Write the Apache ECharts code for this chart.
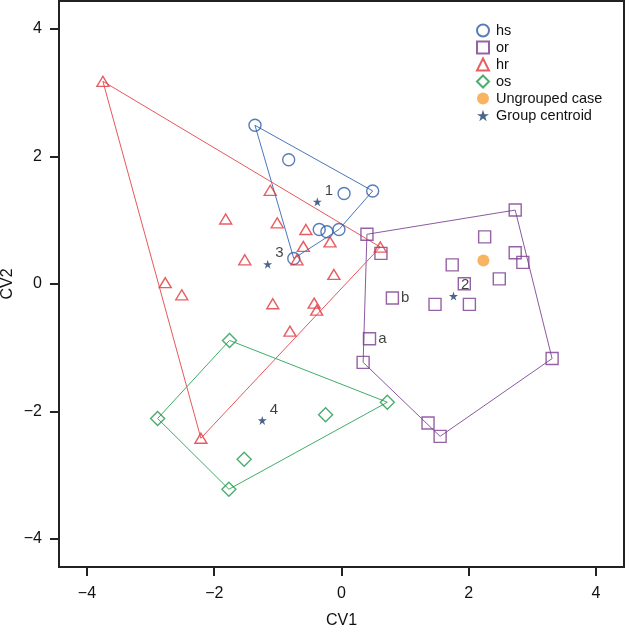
<!DOCTYPE html>
<html>
<head>
<meta charset="utf-8">
<script src="https://cdn.jsdelivr.net/npm/echarts@6/dist/echarts.min.js"></script>
<style>html,body{margin:0;padding:0;background:#fff;}#c{width:626px;height:625px;}</style>
</head>
<body>
<div id="c"></div>
<script>
// ---- data ----
const hsPoints = [[-1.36,2.49],[-0.83,1.95],[0.04,1.42],[0.49,1.46],[-0.35,0.855],[-0.23,0.82],[-0.04,0.855],[-0.75,0.40]];
const orPoints = [[0.40,0.78],[0.62,0.48],[2.73,1.16],[2.25,0.74],[2.73,0.49],[2.85,0.34],[1.74,0.30],[2.48,0.08],[1.93,0.005],[0.80,-0.22],[1.47,-0.32],[2.01,-0.32],[0.44,-0.86],[0.34,-1.23],[3.31,-1.17],[1.36,-2.18],[1.55,-2.39]];
const orTags = {9:'b', 12:'a'};
const hrPoints = [[-3.75,3.18],[-1.12,1.47],[-1.82,1.02],[-1.01,0.96],[-0.56,0.855],[-0.60,0.59],[-0.18,0.66],[-1.52,0.38],[-0.70,0.38],[0.61,0.58],[-0.12,0.15],[-2.77,0.02],[-2.51,-0.17],[-1.08,-0.31],[-0.43,-0.30],[-0.39,-0.41],[-0.81,-0.74],[-2.21,-2.42]];
const osPoints = [[-1.76,-0.885],[-2.89,-2.11],[-1.53,-2.75],[-1.77,-3.22],[0.72,-1.855],[-0.25,-2.05]];
const ungrouped = [[2.23,0.37]];
const centroids = [[-0.38,1.29],[1.76,-0.19],[-1.16,0.31],[-1.245,-2.14]];
const centroidLabels = ['1','2','3','4'];
const tickValues = [-4,-2,0,2,4];
const legendNames = ['hs','or','hr','os','Ungrouped case','Group centroid'];

// ---- styling ----
const C = {hs:'#2f5da8', or:'#7a3b8f', hr:'#e0363c', os:'#1e9a4c', ung:'#f6a03c', cen:'#1d3d6d'};
const HULL = {hs:'#4a76bd', or:'#8c5a9f', hr:'#e8585b', os:'#3fae66'};
const FONT = 'Liberation Sans';
const STAR = 'path://M50,0 L61.2,34.6 L97.6,34.5 L68.1,55.9 L79.4,90.5 L50,69 L20.6,90.5 L31.9,55.9 L2.4,34.5 L38.8,34.6 Z';

function hull(pts){
  const p = pts.slice().sort((a,b)=>a[0]-b[0]||a[1]-b[1]);
  const cross=(o,a,b)=>(a[0]-o[0])*(b[1]-o[1])-(a[1]-o[1])*(b[0]-o[0]);
  const lower=[],upper=[];
  for(const q of p){while(lower.length>=2&&cross(lower[lower.length-2],lower[lower.length-1],q)<=0)lower.pop();lower.push(q);}
  for(let i=p.length-1;i>=0;i--){const q=p[i];while(upper.length>=2&&cross(upper[upper.length-2],upper[upper.length-1],q)<=0)upper.pop();upper.push(q);}
  upper.pop();lower.pop();
  const h=lower.concat(upper);h.push(h[0]);return h;
}
function hullSeries(name,pts,color){
  return {name:name+'_hull',type:'line',data:hull(pts),symbol:'none',silent:true,z:1,
    lineStyle:{color:color,width:1},animation:false};
}
function hollow(color,w){return {color:'rgba(255,255,255,0)',borderColor:color,borderWidth:w||1.4};}

const chart = echarts.init(document.getElementById('c'));
const axisCommon = {
  type:'value', min:-4.44, max:4.44,
  splitLine:{show:false},
  axisLine:{show:true,onZero:false,lineStyle:{color:'#222',width:2}},
  axisTick:{show:true,inside:false,length:9,customValues:tickValues,lineStyle:{color:'#222',width:2}},
  axisLabel:{customValues:tickValues,color:'#111',fontSize:16,fontFamily:FONT,
    formatter:v=>String(v).replace('-','\u2212')},
  nameLocation:'middle',
  nameTextStyle:{color:'#111',fontSize:16,fontFamily:FONT}
};
chart.setOption({
  animation:false,
  backgroundColor:'#fff',
  grid:{left:59,right:2,top:1,bottom:58,show:true,borderColor:'#222',borderWidth:2,
    outerBoundsMode:'none',containLabel:false},
  xAxis:Object.assign({},axisCommon,{name:'CV1',nameGap:46,axisLabel:Object.assign({},axisCommon.axisLabel,{margin:19})}),
  yAxis:Object.assign({},axisCommon,{name:'CV2',nameGap:51,nameMoveOverlap:false,
    nameTextStyle:{color:'#111',fontSize:16,fontFamily:FONT,verticalAlign:'middle'},
    axisLabel:Object.assign({},axisCommon.axisLabel,{margin:17})}),
  legend:{
    data:legendNames, orient:'vertical', left:471, top:18,
    itemWidth:12, itemHeight:12, itemGap:2,
    textStyle:{fontSize:14.5,fontFamily:FONT,color:'#111',padding:[0,0,0,2]},
    selectedMode:false
  },
  series:[
    hullSeries('hs',hsPoints,HULL.hs),
    hullSeries('or',orPoints,HULL.or),
    hullSeries('hr',hrPoints,HULL.hr),
    hullSeries('os',osPoints,HULL.os),
    {name:'hs',type:'scatter',data:hsPoints,symbol:'circle',symbolSize:12,itemStyle:hollow(C.hs),z:3},
    {name:'or',type:'scatter',symbol:'rect',symbolSize:12,itemStyle:hollow(C.or),z:3,
      data:orPoints.map((p,i)=>orTags[i]?{value:p,label:{show:true,formatter:orTags[i],position:'right',distance:2,
        color:'#111',fontSize:15,fontFamily:FONT}}:p)},
    {name:'hr',type:'scatter',data:hrPoints,symbol:'triangle',symbolSize:[12,10],itemStyle:hollow(C.hr),z:3},
    {name:'os',type:'scatter',data:osPoints,symbol:'diamond',symbolSize:14,itemStyle:hollow(C.os),z:3},
    {name:'Ungrouped case',type:'scatter',data:ungrouped,symbol:'circle',symbolSize:12,itemStyle:{color:C.ung},z:3},
    {name:'Group centroid',type:'scatter',symbol:STAR,symbolSize:9,itemStyle:{color:C.cen},z:4,
      data:centroids.map((p,i)=>({value:p,label:{show:true,formatter:centroidLabels[i],position:'right',distance:3,
        offset:[0,-11],color:'#111',fontSize:15,fontFamily:FONT}}))}
  ]
});
</script>
</body>
</html>
